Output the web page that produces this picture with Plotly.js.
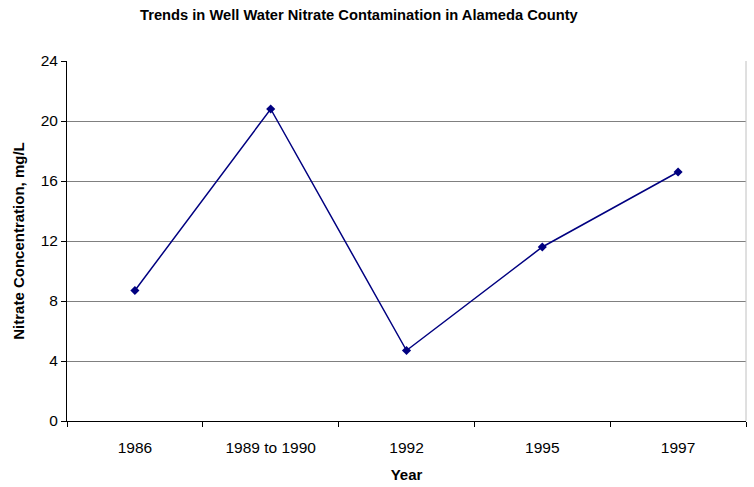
<!DOCTYPE html>
<html>
<head>
<meta charset="utf-8">
<script src="https://cdn.plot.ly/plotly-3.0.1.min.js"></script>
<style>html,body{margin:0;padding:0;background:#fff;}#chart{width:754px;height:487px;}</style>
</head>
<body>
<div id="chart"></div>
<script>
var years = ["1986", "1989 to 1990", "1992", "1995", "1997"];
var nitrate = [8.7, 20.8, 4.7, 11.6, 16.6];
var yTicks = [0, 4, 8, 12, 16, 20, 24];

var trace = {
  x: years,
  y: nitrate,
  type: "scatter",
  mode: "lines+markers",
  line: {color: "#000080", width: 1.5},
  marker: {symbol: "diamond", size: 7, color: "#000080"},
  hoverinfo: "x+y"
};

var layout = {
  width: 754, height: 487,
  margin: {l: 67, r: 8, t: 61, b: 66},
  paper_bgcolor: "#fff", plot_bgcolor: "#fff",
  font: {family: "Liberation Sans, Arial, sans-serif", size: 15.5, color: "#000"},
  showlegend: false,
  title: {text: "<b>Trends in Well Water Nitrate Contamination in Alameda County</b>",
          font: {size: 14.7}, x: 0.476, xanchor: "center", y: 0.970, yanchor: "middle"},
  xaxis: {
    type: "category",
    title: {text: "<b>Year</b>", font: {size: 15}, standoff: 14},
    showline: true, linecolor: "#000", linewidth: 1,
    ticks: "outside", tickson: "boundaries", ticklen: 5, tickcolor: "#000",
    showgrid: false, zeroline: false,
    ticklabelstandoff: 12,
    range: [-0.5, 4.5]
  },
  yaxis: {
    title: {text: "<b>Nitrate Concentration, mg/L</b>", font: {size: 15}, standoff: 12},
    range: [0, 24], tickvals: yTicks, ticktext: yTicks.map(String),
    showline: true, linecolor: "#000", linewidth: 1,
    ticks: "outside", ticklen: 5, tickcolor: "#000",
    showgrid: true, gridcolor: "#808080", gridwidth: 1,
    zeroline: false
  },
  shapes: [{type: "line", xref: "paper", yref: "paper", x0: 1, x1: 1, y0: 0, y1: 1,
            line: {color: "#c0c0c0", width: 1}}]
};

Plotly.newPlot("chart", [trace], layout, {displayModeBar: false, staticPlot: true});
</script>
</body>
</html>
